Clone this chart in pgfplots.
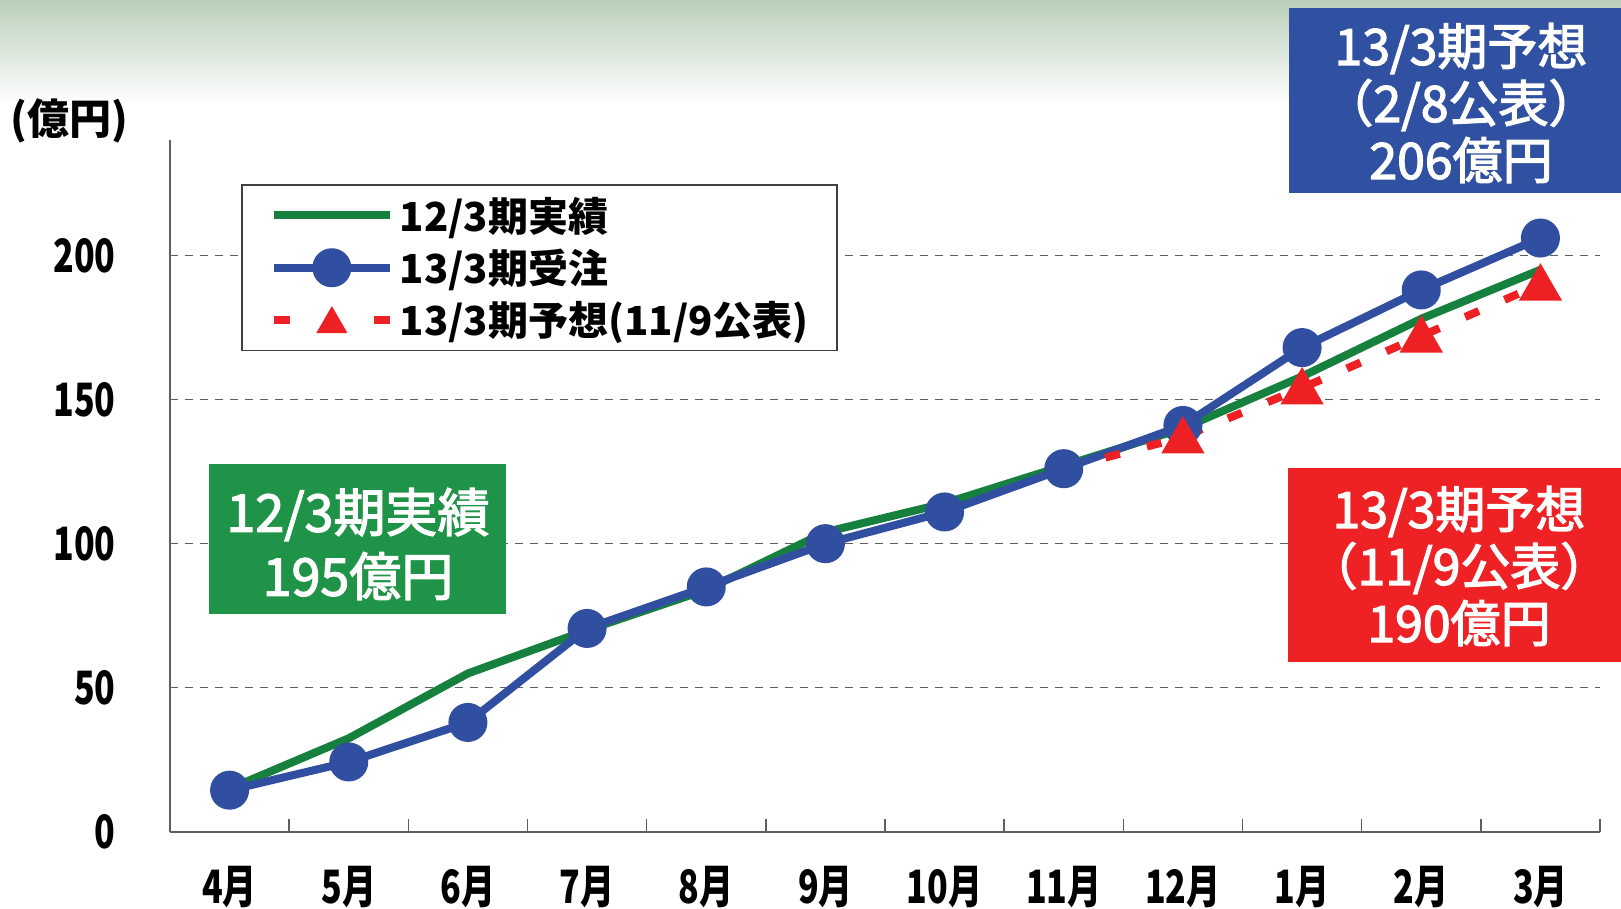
\documentclass[border=0pt]{standalone}
\usepackage{pgfplots}
\pgfplotsset{compat=1.18}
\usepackage{fontspec}
\newfontfamily\jp{Noto Sans CJK JP}
\newfontfamily\jpm[FakeBold=2.5]{Noto Sans CJK JP}
\newfontfamily\jpn[FakeStretch=0.74]{Noto Sans CJK JP}
\definecolor{greenline}{RGB}{22,128,62}
\definecolor{blueline}{RGB}{48,79,160}
\definecolor{redline}{RGB}{237,32,36}
\definecolor{greenbox}{RGB}{31,148,72}
\definecolor{bluebox}{RGB}{48,80,162}
\definecolor{redbox}{RGB}{238,34,36}
\definecolor{bgtop}{RGB}{186,207,186}
\definecolor{axisgray}{RGB}{95,95,95}
\pgfplotsset{
  redlegend/.style={legend image code/.code={
    \draw[##1, mark=none, dash pattern=on 8pt off 42pt] (0pt,0pt) -- (58pt,0pt);
    \path[fill=redline, draw=none] (29pt,7pt) -- (21.2pt,-6.5pt) -- (36.8pt,-6.5pt) -- cycle;}},
}
\begin{document}
\begin{tikzpicture}
\begin{scope}[x=0.5pt,y=-0.5pt]
\useasboundingbox (0,0) rectangle (1621,909);
\fill[white] (0,0) rectangle (1621,909);
\shade[top color=bgtop, bottom color=white] (0,0) rectangle (1621,105);
\end{scope}
\begin{axis}[
  at={(85pt,-416pt)}, anchor=south west,
  scale only axis, width=715pt, height=346pt,
  xmin=-0.5, xmax=11.5, ymin=0, ymax=240,
  axis lines*=left,
  axis line style={draw=axisgray, line width=0.9pt},
  /pgf/number format/assume math mode=true,
  xtick={0.5,1.5,...,11.5}, xticklabels={},
  tick align=inside, major tick length=6.5pt,
  xtick style={draw=axisgray, line width=0.8pt},
  extra x ticks={0,1,2,3,4,5,6,7,8,9,10,11},
  extra x tick labels={4月,5月,6月,7月,8月,9月,10月,11月,12月,1月,2月,3月},
  extra x tick style={major tick length=0pt, grid=none},
  xticklabel style={font=\jpn\bfseries\fontsize{23}{23}\selectfont, anchor=center, yshift=-27.5pt, inner sep=0pt},
  ytick={0,50,100,150,200},
  ytick style={draw=none},
  yticklabel style={font=\jpn\bfseries\fontsize{23}{23}\selectfont, anchor=east, xshift=-27pt, inner sep=0pt},
  ymajorgrids,
  grid style={draw=axisgray, line width=0.6pt, dash pattern=on 4pt off 3.5pt},
  legend style={at={(axis description cs:0.0497,0.9364)}, anchor=north west,
    draw=black!75, line width=0.8pt, fill=white,
    font=\jp\bfseries\fontsize{20}{20}\selectfont,
    nodes={inner sep=0pt}, inner xsep=14pt, inner ysep=6pt,
    row sep=7.5pt, column sep=3pt},
  legend cell align=left,
  legend image code/.code={\draw[#1, mark repeat=2, mark phase=2] plot coordinates {(0pt,0pt) (29pt,0pt) (58pt,0pt)};},
]
\addplot[greenline, line width=4pt, line join=round, mark=none] coordinates {
(0,15) (1,32.5) (2,55) (3,70) (4,84) (5,104) (6,114) (7,127) (8,140) (9,158) (10,178) (11,195)};
\addlegendentry{12/3期実績}
\addplot[blueline, line width=4pt, line join=round, mark=*, mark size=7.75pt, mark options={draw=none, fill=blueline}] coordinates {
(0,14.5) (1,24.3) (2,38) (3,70.6) (4,85) (5,100) (6,111) (7,126) (8,141) (9,168) (10,188) (11,206)};
\addlegendentry{13/3期受注}
\addplot[redline, line width=4pt, dash pattern=on 7.5pt off 14pt, mark=triangle*, mark size=8.5pt, mark indices={2,3,4,5},
  mark options={solid, draw=none, fill=redline, yshift=-2pt}, redlegend] coordinates {
(7,126) (8,137) (9,154) (10,172) (11,190)};
\addlegendentry{13/3期予想(11/9公表)}
\end{axis}
\begin{scope}[x=0.5pt,y=-0.5pt]
\node[font=\jp\bfseries\fontsize{21}{21}\selectfont, inner sep=0pt] at (69,121) {(億円)};
\fill[greenbox] (209,464) rectangle (506,614);
\node[text=white, align=center, font=\jpm\fontsize{26}{32}\selectfont, inner sep=0pt] at (358,544) {12/3期実績\\195億円};
\fill[bluebox] (1289,8) rectangle (1621,193);
\node[text=white, align=center, font=\jpm\fontsize{25}{28.5}\selectfont, inner sep=0pt] at (1461,103) {13/3期予想\\（2/8公表）\\206億円};
\fill[redbox] (1288,468) rectangle (1621,662);
\node[text=white, align=center, font=\jpm\fontsize{25}{28.5}\selectfont, inner sep=0pt] at (1459,566) {13/3期予想\\（11/9公表）\\190億円};
\end{scope}
\end{tikzpicture}
\end{document}
